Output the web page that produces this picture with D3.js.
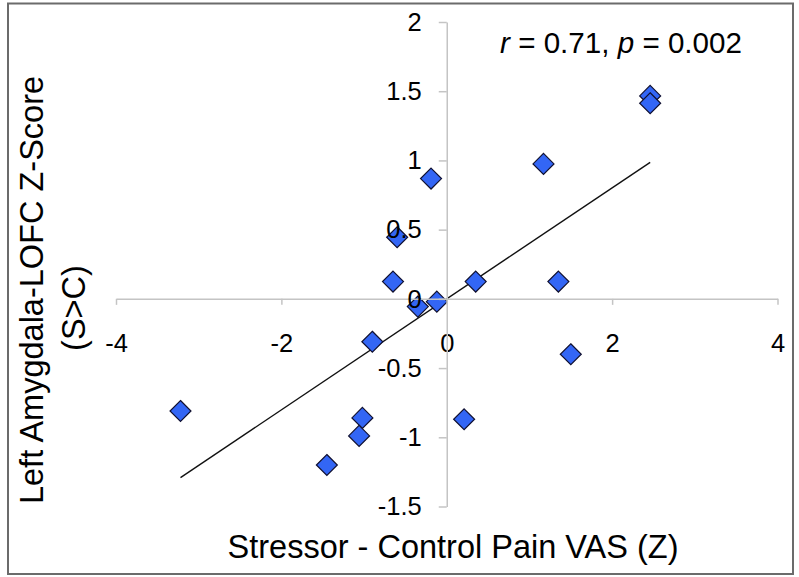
<!DOCTYPE html>
<html>
<head>
<meta charset="utf-8">
<script src="https://cdn.jsdelivr.net/npm/d3@7"></script>
<style>
  html, body { margin: 0; padding: 0; background: #fff; }
  svg text { font-family: "Liberation Sans", Arial, sans-serif; fill: #000; }
</style>
</head>
<body>
<script>
const [W, H] = [799, 577];

// data
const vasZ = [2.46, 2.46, 1.17, -0.19, 0.35, 1.35, -0.12, -0.35, 1.50, 0.21, -0.60, -0.65, -0.90, -3.22, -1.02, -1.06, -1.45];
const amygZ = [1.466, 1.413, 0.975, 0.869, 0.125, 0.125, -0.02, -0.056, -0.40, -0.87, 0.445, 0.125, -0.31, -0.81, -0.86, -0.99, -1.20];
const fitSlope = 0.401, fitIntercept = 0.0;

const xTicks = [-4, -2, 0, 2, 4];
const xTickLabels = ['-4', '-2', '0', '2', '4'];
const yTicks = [2, 1.5, 1, 0.5, 0, -0.5, -1, -1.5];
const yTickLabels = ['2', '1.5', '1', '0.5', '0', '-0.5', '-1', '-1.5'];

function main() {
    const points = vasZ.map((v, i) => ({ x: v, y: amygZ[i] }));

    const svg = d3.select('body').append('svg')
        .attr('width', W).attr('height', H);

    // outer frame
    svg.append('rect')
        .attr('x', 8).attr('y', 3.5)
        .attr('width', 785).attr('height', 570.5)
        .attr('fill', 'none')
        .attr('stroke', '#6b6b6b')
        .attr('stroke-width', 2);

    // scales
    const xScale = d3.scaleLinear().domain([-4, 4]).range([116, 777.5]);
    const yScale = d3.scaleLinear().domain([-1.5, 2]).range([506.5, 22]);

    // axes cross at 0,0
    const xAxis = d3.axisBottom(xScale)
        .tickValues(xTicks)
        .tickFormat((d, i) => xTickLabels[i])
        .tickSize(6).tickSizeOuter(0).tickPadding(29);
    const yAxis = d3.axisLeft(yScale)
        .tickValues(yTicks)
        .tickFormat((d, i) => yTickLabels[i])
        .tickSize(8).tickSizeOuter(0).tickPadding(17);

    const gx = svg.append('g')
        .attr('transform', 'translate(0,' + yScale(0) + ')')
        .call(xAxis);
    const gy = svg.append('g')
        .attr('transform', 'translate(' + xScale(0) + ',0)')
        .call(yAxis);

    [gx, gy].forEach(g => {
        g.selectAll('path, line').attr('stroke', '#c4c4c4').attr('stroke-width', 1.5);
        g.selectAll('text').style('font-size', '25.5px').attr('fill', '#000');
    });

    // trend line over the data range
    const xExt = d3.extent(points, d => d.x);
    svg.append('line')
        .attr('x1', xScale(xExt[0])).attr('y1', yScale(fitSlope * xExt[0] + fitIntercept))
        .attr('x2', xScale(xExt[1])).attr('y2', yScale(fitSlope * xExt[1] + fitIntercept))
        .attr('stroke', '#111')
        .attr('stroke-width', 1.4);

    // points
    const diamond = d3.symbol().type(d3.symbolDiamond2).size(280);
    svg.selectAll('.dot')
        .data(points).enter()
        .append('path')
        .attr('class', 'dot')
        .attr('d', diamond)
        .attr('transform', d => 'translate(' + xScale(d.x) + ',' + yScale(d.y) + ')')
        .attr('fill', '#3366f5')
        .attr('stroke', '#101030')
        .attr('stroke-width', 1.2);

    // tick labels on top of the marks
    gx.raise();
    gy.raise();

    // stat annotation
    const stat = svg.append('text')
        .attr('x', 621).attr('y', 53)
        .style('text-anchor', 'middle')
        .style('font-size', '29.6px');
    stat.append('tspan').style('font-style', 'italic').text('r');
    stat.append('tspan').text(' = 0.71, ');
    stat.append('tspan').style('font-style', 'italic').text('p');
    stat.append('tspan').text(' = 0.002');

    // axis titles
    svg.append('text')
        .attr('x', 453).attr('y', 558)
        .style('text-anchor', 'middle')
        .style('font-size', '32.5px')
        .text('Stressor - Control Pain VAS (Z)');

    svg.append('text')
        .attr('transform', 'translate(43,290) rotate(-90)')
        .style('text-anchor', 'middle')
        .style('font-size', '32.5px')
        .text('Left Amygdala-LOFC Z-Score');
    svg.append('text')
        .attr('transform', 'translate(85,308) rotate(-90)')
        .style('text-anchor', 'middle')
        .style('font-size', '32.5px')
        .text('(S>C)');
}

document.addEventListener('DOMContentLoaded', main);
</script>
</body>
</html>
